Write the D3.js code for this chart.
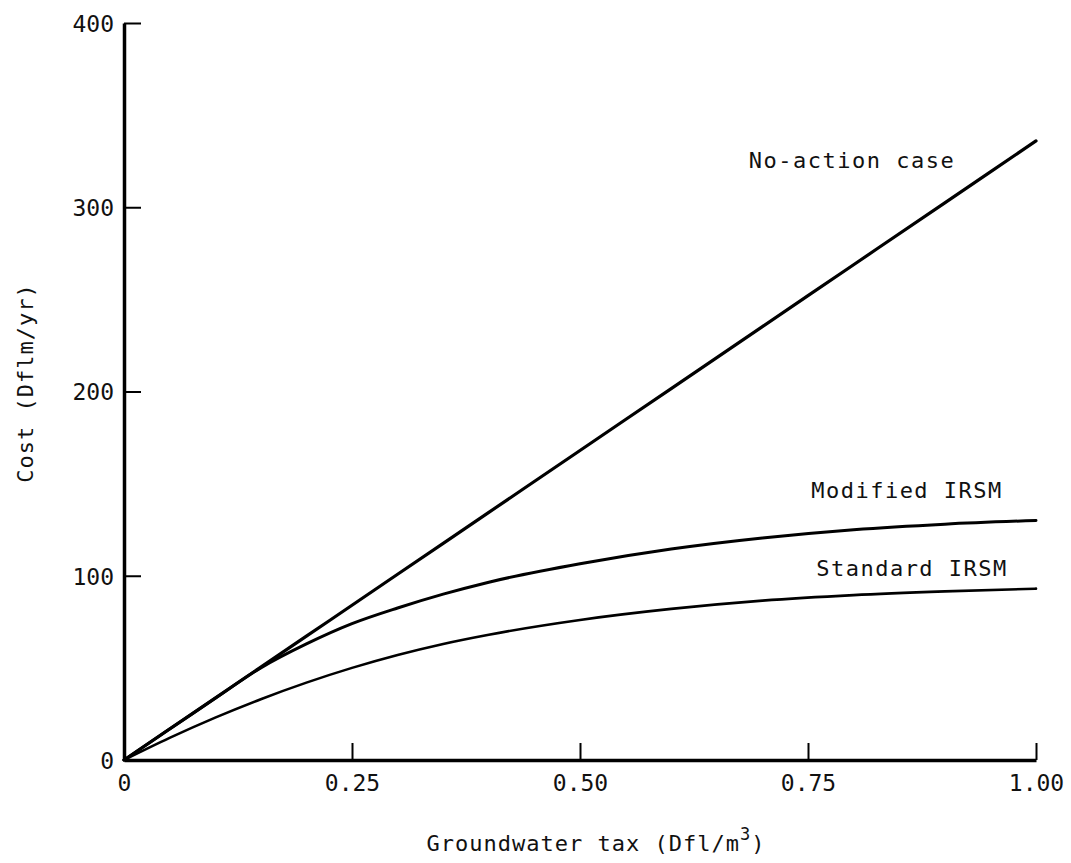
<!DOCTYPE html>
<html>
<head>
<meta charset="utf-8">
<script src="https://cdn.jsdelivr.net/npm/d3@7"></script>
<style>
  body { margin: 0; background: #fff; }
  text { font-family: "DejaVu Sans Mono", monospace; fill: #111; }
</style>
</head>
<body>
<div id="chart"></div>
<script>
// Data --------------------------------------------------------------------------------------------------------------
const taxValues = [0, 0.05, 0.10, 0.15, 0.20, 0.25, 0.30, 0.35, 0.40, 0.50, 0.60, 0.70, 0.80, 0.90, 1.00];
const noActionCost = [0, 16.8, 33.6, 50.4, 67.2, 84, 100.8, 117.6, 134.4, 168, 201.6, 235.2, 268.8, 302.4, 336];
const modifiedCost = [0, 16.8, 33.5, 50, 63, 74, 82.5, 90, 96.5, 106.5, 114.5, 120.5, 125, 128, 130];
const standardCost = [0, 12, 23, 33, 42, 50, 57, 63, 68, 76, 82, 86.5, 89.5, 91.5, 93];

const xTicks = [0, 0.25, 0.50, 0.75, 1.00];
const xTickLabels = ["0", "0.25", "0.50", "0.75", "1.00"];
const yTicks = [0, 100, 200, 300, 400];

const seriesNames = ["No-action case", "Modified IRSM", "Standard IRSM"];
const seriesValues = [noActionCost, modifiedCost, standardCost];

// Canvas --------------------------------------------------------------------------------------------------------------
const canvasWidth = 1071;
const canvasHeight = 863;

const svg = d3.select("#chart")
  .append("svg")
  .attr("width", canvasWidth)
  .attr("height", canvasHeight);

const xScale = d3.scaleLinear().domain([0, 1]).range([124, 1036]);
const yScale = d3.scaleLinear().domain([0, 400]).range([760, 23]);

const tickFontSize = 23;
const labelFontSize = 22;

// Axes ----------------------------------------------------------------------------------------------------------------
const yAxis = svg.append("g")
  .attr("transform", "translate(" + xScale(0) + ",0)")
  .call(d3.axisLeft(yScale).tickValues(yTicks).tickSizeInner(-17).tickSizeOuter(0).tickPadding(10));

const xAxis = svg.append("g")
  .attr("transform", "translate(0," + yScale(0) + ")")
  .call(d3.axisBottom(xScale).tickValues(xTicks).tickFormat((d, i) => xTickLabels[i])
    .tickSizeInner(-17).tickSizeOuter(0).tickPadding(15));

svg.selectAll(".domain")
  .style("stroke", "#000")
  .style("stroke-width", 3.5);
svg.selectAll(".tick line")
  .style("stroke", "#000")
  .style("stroke-width", 2);
svg.selectAll(".tick text")
  .style("font-size", tickFontSize)
  .style("font-family", "DejaVu Sans Mono, monospace")
  .style("fill", "#111");
yAxis.selectAll(".tick text").attr("dy", "0.36em");
// no tick marks at the corner
yAxis.selectAll(".tick").filter(d => d === 0).select("line").remove();
xAxis.selectAll(".tick").filter(d => d === 0).select("line").remove();

// Axis titles
svg.append("text")
  .text("Cost (Dflm/yr)")
  .attr("transform", "translate(33, 383) rotate(-90)")
  .style("text-anchor", "middle")
  .style("font-size", labelFontSize)
  .style("letter-spacing", "1px");

const xLabel = svg.append("text")
  .attr("x", 596)
  .attr("y", 851)
  .style("text-anchor", "middle")
  .style("font-size", labelFontSize)
  .style("letter-spacing", "1px");
xLabel.append("tspan").text("Groundwater tax (Dfl/m");
xLabel.append("tspan").text("3").attr("dy", -11).style("font-size", 17);
xLabel.append("tspan").text(")").attr("dy", 11);

// Curves --------------------------------------------------------------------------------------------------------------
const line = d3.line()
  .x(d => xScale(d[0]))
  .y(d => yScale(d[1]))
  .curve(d3.curveMonotoneX);

const widths = [3.2, 3, 2.6];
seriesValues.forEach(function(values, i) {
  svg.append("path")
    .datum(taxValues.map((t, j) => [t, values[j]]))
    .attr("d", line)
    .attr("fill", "none")
    .attr("stroke", "#000")
    .attr("stroke-width", widths[i])
    .attr("stroke-linecap", "round");
});

// Curve labels
const labelPos = [[852, 168], [907, 498], [912, 576]];
seriesNames.forEach(function(name, i) {
  svg.append("text")
    .text(name)
    .attr("x", labelPos[i][0])
    .attr("y", labelPos[i][1])
    .style("text-anchor", "middle")
    .style("font-size", labelFontSize)
    .style("letter-spacing", "1.5px");
});
</script>
</body>
</html>
